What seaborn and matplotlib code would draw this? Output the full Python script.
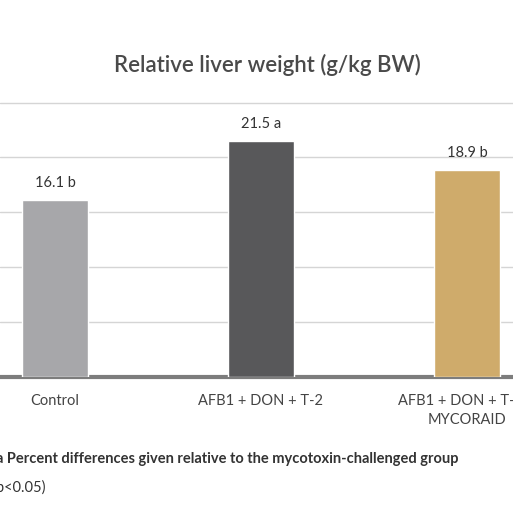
import matplotlib
matplotlib.use("Agg")
import matplotlib.pyplot as plt
import seaborn as sns
import pandas as pd

categories = ["Control", "AFB1 + DON + T-2", "AFB1 + DON + T-2 +\nMYCORAID"]
values = [16.1, 21.5, 18.9]
letters = ["b", "a", "b"]
colors = ["#a7a7aa", "#58585a", "#cfab6b"]

sns.set_style("white")
plt.rcParams['font.family'] = ['Lato', 'DejaVu Sans']
df = pd.DataFrame({"cat": categories, "val": values})

fig = plt.figure(figsize=(5.13, 5.17), dpi=100)
ax = fig.add_axes([0, 1 - 377/517, 1, 275/517])
sns.barplot(data=df, x="cat", y="val", hue="cat", palette=colors, width=0.32,
            saturation=1, legend=False, ax=ax, zorder=3)
ax.set_xlim(-55/206, -55/206 + 513/206)
ax.set_ylim(0, 25.05)
ax.set_yticks([5, 10, 15, 20, 25])
ax.yaxis.grid(True, color="#d5d5d5", lw=1, zorder=0)
ax.tick_params(left=False, labelleft=False, bottom=False)
for s in ["top", "right", "left"]:
    ax.spines[s].set_visible(False)
ax.spines["bottom"].set_color("#7d7d7d")
ax.spines["bottom"].set_linewidth(3)
ax.set_xlabel("")
ax.set_ylabel("")
ax.set_xticks(range(3))
ax.set_xticklabels(categories, fontsize=10.5, color="#444444", linespacing=1.4)
ax.tick_params(axis="x", pad=9)
for i, (v, l) in enumerate(zip(values, letters)):
    ax.text(i, v + 0.9, f"{v} {l}", ha="center", va="bottom", fontsize=10.5, color="#333333")

fig.text(267/513, 1 - 65/517, "Relative liver weight (g/kg BW)", ha="center", va="center",
         fontsize=16, fontweight="semibold", color="#4a4a4a")
fig.text(-4/513, 1 - 459/517, "a Percent differences given relative to the mycotoxin-challenged group",
         ha="left", va="center", fontsize=10.5, fontweight="bold", color="#333333")
fig.text(-4/513, 1 - 487/517, "p<0.05)", ha="left", va="center", fontsize=10.5, color="#333333")
fig.savefig("out.png", dpi=100)
